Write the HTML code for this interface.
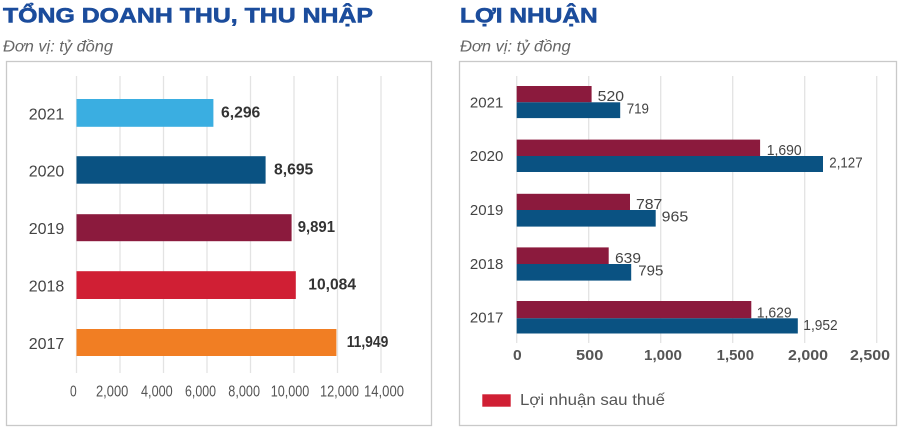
<!DOCTYPE html>
<html>
<head>
<meta charset="utf-8">
<style>
html,body{margin:0;padding:0;background:#fff;}
svg{display:block;}
text{font-family:"Liberation Sans","DejaVu Sans",sans-serif;}
</style>
</head>
<body>
<svg width="900" height="431" viewBox="0 0 900 431" xmlns="http://www.w3.org/2000/svg">
<rect x="0" y="0" width="900" height="431" fill="#fff"/>

<!-- ========== LEFT CHART ========== -->
<text x="3" y="22.7" font-size="21" font-weight="bold" fill="#1b4c9c" stroke="#1b4c9c" stroke-width="0.6" textLength="370" lengthAdjust="spacingAndGlyphs">TỔNG DOANH THU, THU NHẬP</text>
<text x="3" y="51.5" font-size="15.5" font-style="italic" fill="#666" textLength="110" lengthAdjust="spacingAndGlyphs">Đơn vị: tỷ đồng</text>
<rect x="6.5" y="61.5" width="425" height="364" fill="none" stroke="#c9c9c9" stroke-width="1.3"/>

<g stroke="#e3e3e3" stroke-width="1.3">
<line x1="76.5" y1="76" x2="76.5" y2="373"/>
<line x1="120" y1="76" x2="120" y2="373"/>
<line x1="163.5" y1="76" x2="163.5" y2="373"/>
<line x1="207" y1="76" x2="207" y2="373"/>
<line x1="250.5" y1="76" x2="250.5" y2="373"/>
<line x1="294" y1="76" x2="294" y2="373"/>
<line x1="337.5" y1="76" x2="337.5" y2="373"/>
<line x1="381" y1="76" x2="381" y2="373"/>
</g>

<rect x="76.5" y="99" width="136.9" height="27.8" fill="#3aaee1"/>
<rect x="76.5" y="156.2" width="189.1" height="27.5" fill="#0a5282"/>
<rect x="76.5" y="214.2" width="215.1" height="27" fill="#8b1a3d"/>
<rect x="76.5" y="271.2" width="219.3" height="27.8" fill="#d01f34"/>
<rect x="76.5" y="329" width="259.9" height="27" fill="#f17e23"/>

<g font-size="16" fill="#444" text-anchor="end">
<text x="64.3" y="119.5">2021</text>
<text x="64.3" y="176.5">2020</text>
<text x="64.3" y="234">2019</text>
<text x="64.3" y="291.5">2018</text>
<text x="64.3" y="349">2017</text>
</g>

<g font-size="16" font-weight="bold" fill="#333">
<text x="221" y="117.5" textLength="39.3" lengthAdjust="spacingAndGlyphs">6,296</text>
<text x="274" y="174.5" textLength="39.3" lengthAdjust="spacingAndGlyphs">8,695</text>
<text x="297.7" y="232.2" textLength="37.3" lengthAdjust="spacingAndGlyphs">9,891</text>
<text x="308.3" y="289.5" textLength="47.7" lengthAdjust="spacingAndGlyphs">10,084</text>
<text x="346.7" y="347" textLength="41.6" lengthAdjust="spacingAndGlyphs">11,949</text>
</g>

<g font-size="16" fill="#555">
<text x="70" y="396.5" textLength="6.7" lengthAdjust="spacingAndGlyphs">0</text>
<text x="96" y="396.5" textLength="32.3" lengthAdjust="spacingAndGlyphs">2,000</text>
<text x="141" y="396.5" textLength="31.7" lengthAdjust="spacingAndGlyphs">4,000</text>
<text x="185" y="396.5" textLength="31" lengthAdjust="spacingAndGlyphs">6,000</text>
<text x="228.3" y="396.5" textLength="31.7" lengthAdjust="spacingAndGlyphs">8,000</text>
<text x="270.7" y="396.5" textLength="38.6" lengthAdjust="spacingAndGlyphs">10,000</text>
<text x="320" y="396.5" textLength="39" lengthAdjust="spacingAndGlyphs">12,000</text>
<text x="364" y="396.5" textLength="40" lengthAdjust="spacingAndGlyphs">14,000</text>
</g>

<!-- ========== RIGHT CHART ========== -->
<text x="460" y="22.7" font-size="21" font-weight="bold" fill="#1b4c9c" stroke="#1b4c9c" stroke-width="0.6" textLength="137.7" lengthAdjust="spacingAndGlyphs">LỢI NHUẬN</text>
<text x="460" y="51.5" font-size="15.5" font-style="italic" fill="#666" textLength="110.7" lengthAdjust="spacingAndGlyphs">Đơn vị: tỷ đồng</text>
<rect x="459.5" y="61.5" width="437" height="364" fill="none" stroke="#c9c9c9" stroke-width="1.3"/>

<g stroke="#e3e3e3" stroke-width="1.3">
<line x1="516.7" y1="76" x2="516.7" y2="343"/>
<line x1="588.7" y1="76" x2="588.7" y2="343"/>
<line x1="660.7" y1="76" x2="660.7" y2="343"/>
<line x1="732.7" y1="76" x2="732.7" y2="343"/>
<line x1="804.7" y1="76" x2="804.7" y2="343"/>
<line x1="876.7" y1="76" x2="876.7" y2="343"/>
</g>

<!-- 2021 -->
<rect x="516.7" y="86" width="74.9" height="16.3" fill="#8b1a3d"/>
<rect x="516.7" y="102.3" width="103.5" height="15.8" fill="#0a5282"/>
<!-- 2020 -->
<rect x="516.7" y="139.6" width="243.4" height="16.4" fill="#8b1a3d"/>
<rect x="516.7" y="156" width="306.3" height="16" fill="#0a5282"/>
<!-- 2019 -->
<rect x="516.7" y="193.8" width="113.3" height="16.2" fill="#8b1a3d"/>
<rect x="516.7" y="210" width="139" height="16.6" fill="#0a5282"/>
<!-- 2018 -->
<rect x="516.7" y="247.4" width="92" height="16.6" fill="#8b1a3d"/>
<rect x="516.7" y="264" width="114.5" height="16.6" fill="#0a5282"/>
<!-- 2017 -->
<rect x="516.7" y="301" width="234.6" height="17.3" fill="#8b1a3d"/>
<rect x="516.7" y="318.3" width="281.1" height="15.2" fill="#0a5282"/>

<g font-size="15" fill="#444" text-anchor="end">
<text x="503.3" y="107.3">2021</text>
<text x="503.3" y="161">2020</text>
<text x="503.3" y="215">2019</text>
<text x="503.3" y="269">2018</text>
<text x="503.3" y="322.5">2017</text>
</g>

<g font-size="15" fill="#444">
<text x="597.7" y="101" textLength="26.3" lengthAdjust="spacingAndGlyphs">520</text>
<text x="626.7" y="113.5" textLength="22.3" lengthAdjust="spacingAndGlyphs">719</text>
<text x="766.7" y="155" textLength="35" lengthAdjust="spacingAndGlyphs">1,690</text>
<text x="829.3" y="167.3" textLength="33.3" lengthAdjust="spacingAndGlyphs">2,127</text>
<text x="636" y="209" textLength="26.3" lengthAdjust="spacingAndGlyphs">787</text>
<text x="661.7" y="221.5" textLength="26.6" lengthAdjust="spacingAndGlyphs">965</text>
<text x="615" y="263" textLength="26" lengthAdjust="spacingAndGlyphs">639</text>
<text x="638.3" y="275.5" textLength="25" lengthAdjust="spacingAndGlyphs">795</text>
<text x="756.7" y="317.3" textLength="35" lengthAdjust="spacingAndGlyphs">1,629</text>
<text x="803.3" y="329.8" textLength="34.4" lengthAdjust="spacingAndGlyphs">1,952</text>
</g>

<g font-size="14.5" font-weight="bold" fill="#555">
<text x="513" y="360" textLength="8.7" lengthAdjust="spacingAndGlyphs">0</text>
<text x="576" y="360" textLength="27.3" lengthAdjust="spacingAndGlyphs">500</text>
<text x="644" y="360" textLength="38" lengthAdjust="spacingAndGlyphs">1,000</text>
<text x="716.7" y="360" textLength="37.3" lengthAdjust="spacingAndGlyphs">1,500</text>
<text x="788" y="360" textLength="40" lengthAdjust="spacingAndGlyphs">2,000</text>
<text x="850" y="360" textLength="40" lengthAdjust="spacingAndGlyphs">2,500</text>
</g>

<rect x="482.3" y="394.3" width="28.4" height="12.4" fill="#d01f34"/>
<text x="520" y="405" font-size="16" fill="#555" textLength="145" lengthAdjust="spacingAndGlyphs">Lợi nhuận sau thuế</text>
</svg>
</body>
</html>
